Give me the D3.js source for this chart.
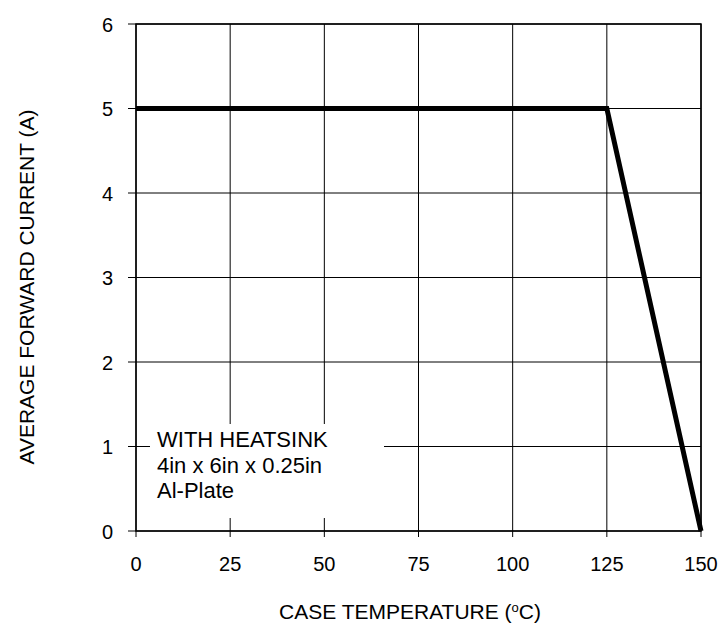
<!DOCTYPE html>
<html><head><meta charset="utf-8">
<script src="https://cdn.jsdelivr.net/npm/d3@7"></script>
<style>body{margin:0;background:#fff}svg text{font-family:Arial,"Liberation Sans",sans-serif}</style>
</head><body>
<svg id="c" width="719" height="626"></svg>
<script>
const xTicks = [0, 25, 50, 75, 100, 125, 150];
const yTicks = [0, 1, 2, 3, 4, 5, 6];
const temps = [0, 125, 150];
const currents = [5, 5, 0];
const noteLines = ["WITH HEATSINK", "4in x 6in x 0.25in", "Al-Plate"];

const svg = d3.select("#c");
const L = 136, R = 701, T = 24, B = 531;
const x = d3.scaleLinear().domain([0, 150]).range([L, R]);
const y = d3.scaleLinear().domain([0, 6]).range([B, T]);

// grid
const g = svg.append("g");
g.selectAll(".vg").data(xTicks).enter().append("line")
  .attr("x1", d => x(d)).attr("x2", d => x(d)).attr("y1", T).attr("y2", B + 6)
  .attr("stroke", "#000").attr("stroke-width", 1);
g.selectAll(".hg").data(yTicks).enter().append("line")
  .attr("y1", d => y(d)).attr("y2", d => y(d)).attr("x1", L - 8).attr("x2", R)
  .attr("stroke", "#000").attr("stroke-width", 1);

// note background box
svg.append("rect").attr("x", 150).attr("y", 424).attr("width", 234).attr("height", 94).attr("fill", "#fff");

// frame
svg.append("rect").attr("x", L).attr("y", T).attr("width", R - L).attr("height", B - T)
  .attr("fill", "none").attr("stroke", "#000").attr("stroke-width", 1.5);

// tick labels
svg.selectAll(".xl").data(xTicks).enter().append("text")
  .attr("x", d => x(d)).attr("y", 571).attr("text-anchor", "middle")
  .attr("font-size", 20).text(d => d);
svg.selectAll(".yl").data(yTicks).enter().append("text")
  .attr("x", 113).attr("y", d => y(d) + 7.5).attr("text-anchor", "end")
  .attr("font-size", 20).text(d => d);

// line
svg.append("path").datum(temps.map((t, i) => [t, currents[i]]))
  .attr("d", d3.line().x(d => x(d[0])).y(d => y(d[1])))
  .attr("fill", "none").attr("stroke", "#000").attr("stroke-width", 5).attr("stroke-linejoin", "miter");

// note
svg.append("text").attr("x", 157).attr("y", 447).attr("font-size", 22)
  .selectAll("tspan").data(noteLines).enter().append("tspan")
  .attr("x", 157).attr("dy", (d, i) => i === 0 ? 0 : 25.5).text(d => d);

// axis titles
const xt = svg.append("text").attr("x", 410).attr("y", 619).attr("text-anchor", "middle").attr("font-size", 21);
xt.append("tspan").text("CASE TEMPERATURE (");
xt.append("tspan").attr("font-size", 13).attr("dy", -7).text("o");
xt.append("tspan").attr("dy", 7).text("C)");
svg.append("text").attr("transform", "translate(34,287) rotate(-90)").attr("text-anchor", "middle")
  .attr("font-size", 21).text("AVERAGE FORWARD CURRENT (A)");
</script>
</body></html>
